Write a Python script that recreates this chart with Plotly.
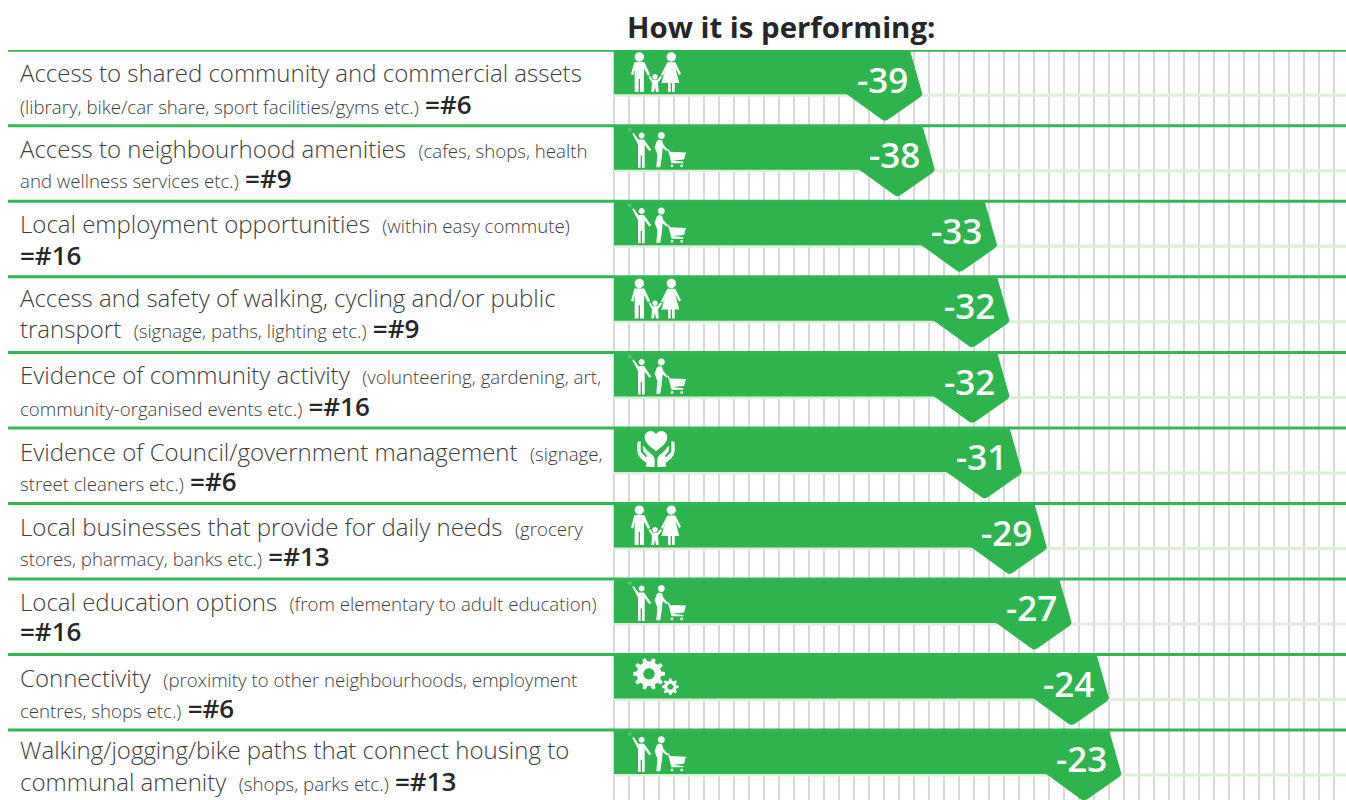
import math
import re
import plotly.graph_objects as go

# Survey results: one row per neighbourhood attribute
heads = [
    "Access to shared community and commercial assets",
    "Access to neighbourhood amenities",
    "Local employment opportunities",
    "Access and safety of walking, cycling and/or public",
    "Evidence of community activity",
    "Evidence of Council/government management",
    "Local businesses that provide for daily needs",
    "Local education options",
    "Connectivity",
    "Walking/jogging/bike paths that connect housing to",
]
head_notes = [
    "",
    "(cafes, shops, health",
    "(within easy commute)",
    "",
    "(volunteering, gardening, art,",
    "(signage,",
    "(grocery",
    "(from elementary to adult education)",
    "(proximity to other neighbourhoods, employment",
    "",
]
second_heads = ["", "", "", "transport", "", "", "", "", "", "communal amenity"]
second_notes = [
    "(library, bike/car share, sport facilities/gyms etc.)",
    "and wellness services etc.)",
    "",
    "(signage, paths, lighting etc.)",
    "community-organised events etc.)",
    "street cleaners etc.)",
    "stores, pharmacy, banks etc.)",
    "",
    "centres, shops etc.)",
    "(shops, parks etc.)",
]
ranks = ["=#6", "=#9", "=#16", "=#9", "=#16", "=#6", "=#13", "=#16", "=#6", "=#13"]
values = [-39, -38, -33, -32, -32, -31, -29, -27, -24, -23]
icons = ["family", "shopper", "shopper", "family", "shopper",
         "hands", "family", "shopper", "gears", "shopper"]
title_text = "How it is performing:"

# Canvas and plot geometry, in pixels
WIDTH, HEIGHT = 1346, 800
PLOT_LEFT, PLOT_TOP = 612, 50
PLOT_W, PLOT_H = WIDTH - PLOT_LEFT, HEIGHT - PLOT_TOP
ROW_TOP0, ROW_STEP = 50.3, 75.52
PX_PER_UNIT = 12.44
REF_VALUE, REF_PX = -39, 923
GRID_PX, GRID_START_PX = 15.01, 614
LINE1_OFFSETS = [22.5, 22.5, 22.5, 20.5, 22.5, 23.5, 23.5, 22.5, 23.5, 19.5]
LINE2_OFFSETS = [53.5, 52.5, 53.5, 51.5, 53.5, 53.5, 52.5, 52.5, 53.5, 51.5]

GREEN = "#2eb44d"
RULE_GREEN = "#35b558"
PALE_GREEN = "#deefd9"
GRID_GREY = "#d9d9d9"
TEXT = "#3d3d3d"
DARK = "#262626"
FONT = "Open Sans"


def px_to_value(px):
    return REF_VALUE + (px - REF_PX) / PX_PER_UNIT


def row_top(i):
    return ROW_TOP0 + ROW_STEP * i


def row_y(px):
    # y axis runs in row units, row i starting at i
    return (px - ROW_TOP0) / ROW_STEP


def to_paper(x, y):
    return (x - PLOT_LEFT) / PLOT_W, 1 - (y - PLOT_TOP) / PLOT_H


def rounded(points, radii):
    # Replaces corners that have a radius by a short quadratic curve
    out = []
    n = len(points)
    for k, (p, r) in enumerate(zip(points, radii)):
        if not r:
            out.append(p)
            continue
        a, b = points[k - 1], points[(k + 1) % n]
        la, lb = math.dist(p, a), math.dist(p, b)
        s = (p[0] + (a[0] - p[0]) * r / la, p[1] + (a[1] - p[1]) * r / la)
        e = (p[0] + (b[0] - p[0]) * r / lb, p[1] + (b[1] - p[1]) * r / lb)
        for t in (0, 0.25, 0.5, 0.75, 1):
            out.append((
                (1 - t) ** 2 * s[0] + 2 * t * (1 - t) * p[0] + t ** 2 * e[0],
                (1 - t) ** 2 * s[1] + 2 * t * (1 - t) * p[1] + t ** 2 * e[1],
            ))
    return out


# Bars with their arrow-shaped heads, as closed outlines in axis units
bar_x, bar_y = [], []
origin = px_to_value(614)
for i, v in enumerate(values):
    outline = [
        (None, 0), (-13, 0), (0, 45), (-38, 71.5), (-76, 44), (None, 44),
    ]
    pts = [((origin if dx is None else v + dx / PX_PER_UNIT) * PX_PER_UNIT, dy)
           for dx, dy in outline]
    pts = rounded(pts, [0, 1, 3.5, 3.5, 1, 0])
    for x, dy in pts:
        bar_x.append(x / PX_PER_UNIT)
        bar_y.append(row_y(row_top(i) + dy))
    bar_x.append(None)
    bar_y.append(None)


def circle(cx, cy, r, clockwise=True):
    k = 0.5523 * r
    if clockwise:
        return (f"M{cx} {cy - r} C{cx + k} {cy - r} {cx + r} {cy - k} {cx + r} {cy} "
                f"C{cx + r} {cy + k} {cx + k} {cy + r} {cx} {cy + r} "
                f"C{cx - k} {cy + r} {cx - r} {cy + k} {cx - r} {cy} "
                f"C{cx - r} {cy - k} {cx - k} {cy - r} {cx} {cy - r} Z ")
    return (f"M{cx} {cy - r} C{cx - k} {cy - r} {cx - r} {cy - k} {cx - r} {cy} "
            f"C{cx - r} {cy + k} {cx - k} {cy + r} {cx} {cy + r} "
            f"C{cx + k} {cy + r} {cx + r} {cy + k} {cx + r} {cy} "
            f"C{cx + r} {cy - k} {cx + k} {cy - r} {cx} {cy - r} Z ")


def poly(coords):
    return "M" + " L".join(f"{x} {y}" for x, y in coords) + " Z "


def gear(cx, cy, outer, root, hole, teeth):
    pts = []
    for t in range(teeth):
        a = 2 * math.pi * t / teeth
        w = 2 * math.pi / teeth
        for frac, r in ((-0.30, root), (-0.17, outer), (0.17, outer), (0.30, root)):
            pts.append((cx + r * math.cos(a + frac * w), cy + r * math.sin(a + frac * w)))
    return poly(pts) + circle(cx, cy, hole, clockwise=False)


# Icon outlines drawn on a 3x grid, with (0, 0) at the top-left of the bar
FAMILY = (
    circle(76, 20, 14)
    + poly([(61, 35), (91, 35), (108, 72), (102, 77), (90, 55), (90, 125), (78, 125),
            (78, 85), (74, 85), (74, 125), (62, 125), (62, 55), (58, 75), (51, 72)])
    + circle(123, 79, 8)
    + poly([(108, 76), (116, 88), (130, 88), (140, 76), (144, 81), (132, 97), (134, 125),
            (126, 125), (123, 108), (120, 125), (112, 125), (114, 97), (104, 81)])
    + circle(172, 20, 14)
    + poly([(160, 36), (184, 36), (201, 70), (195, 74), (184, 53), (196, 98), (182, 98),
            (182, 125), (174, 125), (174, 98), (170, 98), (170, 125), (162, 125),
            (162, 98), (142, 98), (156, 53), (147, 77), (141, 73)])
)
SHOPPER = (
    circle(83, 29, 9)
    + poly([(55, 24), (59, 21), (73, 41), (90, 41), (112, 72), (106, 76), (92, 57),
            (92, 126), (84, 126), (84, 89), (80, 89), (80, 126), (72, 126), (72, 56)])
    + circle(142, 29, 10.5)
    + poly([(128, 46), (134, 41), (144, 43), (148, 56), (161, 72), (158, 76), (146, 66),
            (144, 89), (139, 124), (127, 124), (130, 86), (122, 64)])
    + poly([(160, 70), (164, 70), (168, 78), (216, 80), (210, 101), (176, 104), (208, 108),
            (208, 112), (172, 112), (166, 86)])
    + circle(174, 120, 4) + circle(203, 120, 4)
)
HEART = ("M126 70 C108 56 92 44 92 28 C92 16 101 9 110 9 C117 9 123 13 126 19 "
         "C129 13 135 9 142 9 C151 9 160 16 160 28 C160 44 144 56 126 70 Z ")
HAND = ("M74 40 L80 40 L80 67 C80 74 84 76 88 80 L96 88 L100 84 L88 70 L86 54 "
        "C92 56 94 60 98 66 L116 82 C121 87 122 92 122 98 L122 117 L96 117 L96 104 "
        "C84 96 70 84 70 68 L70 44 Z ")
GEARS = gear(105, 58, 48, 37, 17, 10) + gear(169, 97, 25, 19, 9, 8)
ICON_PATHS = {"family": FAMILY, "shopper": SHOPPER, "gears": GEARS}


def place_path(path, left, top, mirror_about=None):
    # Converts a path on the 3x grid into paper coordinates at a bar's corner
    tokens = re.findall(r"[MLCZ]|-?\d+\.?\d*(?:e-?\d+)?", path)
    out, nums = [], []
    for tok in tokens:
        if tok in "MLCZ":
            out.append(tok)
        else:
            nums.append(float(tok))
            if len(nums) == 2:
                gx = nums[0] if mirror_about is None else 2 * mirror_about - nums[0]
                xp, yp = to_paper(left + gx / 3, top + nums[1] / 3)
                out.append(f"{xp:.5f},{yp:.5f}")
                nums = []
    return " ".join(out)


shapes = []
annotations = []
left_edge, _ = to_paper(8, 0)
NOTE_SPAN = '<span style="font-size:18.65px">{}</span>'
label_x, _ = to_paper(18, 0)

for i in range(len(values)):
    top = row_top(i)
    # Pale rule under each bar, running across the grid
    shapes.append(dict(type="line", layer="between", xref="x", yref="y",
                       x0=origin, x1=px_to_value(WIDTH),
                       y0=row_y(top + 45), y1=row_y(top + 45),
                       line=dict(color=PALE_GREEN, width=3)))
    # Strong rule on top of each row, across the whole width
    shapes.append(dict(type="line", layer="above", xref="paper", yref="y",
                       x0=left_edge, x1=1,
                       y0=row_y(top), y1=row_y(top),
                       line=dict(color=RULE_GREEN, width=3)))

    kind = icons[i]
    white = dict(type="path", layer="above", xref="paper", yref="paper",
                 fillcolor="white", line=dict(width=0))
    if kind == "hands":
        shapes.append(dict(white, path=place_path(HEART + HAND, 614, top)))
        shapes.append(dict(white, path=place_path(HAND, 614, top, mirror_about=126)))
    else:
        shapes.append(dict(white, path=place_path(ICON_PATHS[kind], 614, top)))
    if kind == "shopper":
        shapes.append(dict(type="path", layer="above", xref="paper", yref="paper",
                           fillcolor="rgba(255,255,255,0.2)", line=dict(width=0),
                           path=place_path(circle(47, 12, 6), 614, top)))

    # Value at the bar's head
    annotations.append(dict(
        x=values[i], xref="x", xshift=-13.5, y=row_y(top + 29), yref="y",
        text=str(values[i]), showarrow=False, xanchor="right", yanchor="middle",
        font=dict(family=FONT, size=35, color="white", weight=600),
    ))

    # Two lines of description with the rank at the end
    gap = "\u00a0\u00a0" if head_notes[i] else ""
    annotations.append(dict(
        x=label_x, xref="paper", y=row_y(top + LINE1_OFFSETS[i]), yref="y",
        text=heads[i] + gap + NOTE_SPAN.format(head_notes[i]),
        showarrow=False, xanchor="left", yanchor="middle",
        align="left", font=dict(family=FONT, size=24, color=TEXT, weight=300),
    ))
    parts = []
    if second_heads[i]:
        parts.append(second_heads[i] + "\u00a0\u00a0")
    if second_notes[i]:
        parts.append(NOTE_SPAN.format(second_notes[i]) + "\u00a0")
    parts.append(f'<span style="font-weight:600;font-size:26px;fill:{DARK}">{ranks[i]}</span>')
    annotations.append(dict(
        x=label_x, xref="paper", y=row_y(top + LINE2_OFFSETS[i]), yref="y",
        text="".join(parts), showarrow=False, xanchor="left", yanchor="middle",
        align="left", font=dict(family=FONT, size=24, color=TEXT, weight=300),
    ))

title_x, title_y = to_paper(625, 27)
annotations.append(dict(
    x=title_x, xref="paper", y=title_y, yref="paper", text=title_text,
    showarrow=False, xanchor="left", yanchor="middle",
    font=dict(family=FONT, size=29.4, color=DARK, weight=700),
))

fig = go.Figure(go.Scatter(
    x=bar_x, y=bar_y, mode="lines", fill="toself", fillcolor=GREEN,
    line=dict(color=GREEN, width=0), hoverinfo="skip", showlegend=False,
))
fig.update_layout(
    width=WIDTH, height=HEIGHT,
    margin=dict(l=PLOT_LEFT, r=0, t=PLOT_TOP, b=0, pad=0),
    paper_bgcolor="white", plot_bgcolor="white",
    showlegend=False, shapes=shapes, annotations=annotations,
    xaxis=dict(
        range=[px_to_value(PLOT_LEFT), px_to_value(WIDTH)],
        tick0=px_to_value(GRID_START_PX), dtick=GRID_PX / PX_PER_UNIT,
        showgrid=True, gridcolor=GRID_GREY, gridwidth=1.5,
        showticklabels=False, ticks="", zeroline=False, showline=False, fixedrange=True,
    ),
    yaxis=dict(
        range=[row_y(HEIGHT), row_y(PLOT_TOP)],
        showgrid=False, showticklabels=False, ticks="", zeroline=False,
        showline=False, fixedrange=True,
    ),
)
fig.write_html("out.html", config={"displayModeBar": False})
